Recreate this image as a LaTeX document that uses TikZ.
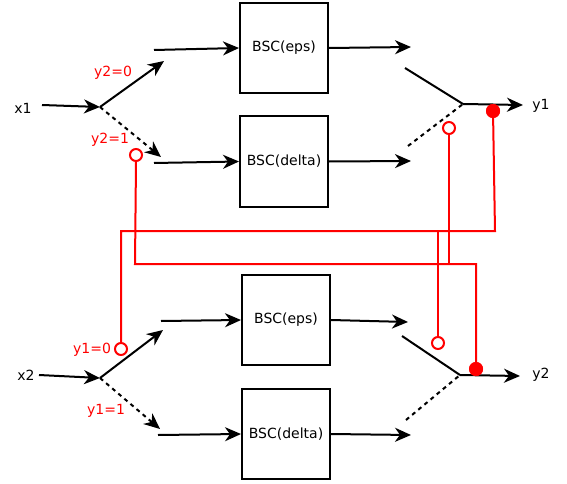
\documentclass[tikz,border=0pt]{standalone}
\usepackage{fontspec}
\setmainfont{DejaVu Sans}
\usetikzlibrary{arrows.meta}
\tikzset{
  pic/.style={x=1pt,y=-1pt},
  wire/.style={line width=2pt,line join=miter},
  arr/.style={wire,-{Stealth[length=16pt,width=14pt,inset=5pt]}},
  dsh/.style={arr,dash pattern=on 4pt off 4pt},
  dshline/.style={wire,dash pattern=on 4pt off 4pt},
  chan/.style={draw,line width=2pt,minimum width=88pt,minimum height=90pt,inner sep=0pt,font=\fontsize{14}{16}\selectfont},
  lbl/.style={inner sep=0pt,font=\fontsize{14}{16}\selectfont},
  rlbl/.style={lbl,text=red},
  ctl/.style={draw=red,line width=2pt},
  open/.style={circle,draw=red,line width=2pt,fill=white,minimum size=12pt,inner sep=0pt},
  shut/.style={circle,fill=red,minimum size=14pt,inner sep=0pt},
}
\begin{document}
\begin{tikzpicture}[pic]
\useasboundingbox (0,0) rectangle (567,484);

% --- channel boxes
\node[chan] (eps1) at (284,48) {BSC(eps)};
\node[chan] (del1) at (284,161.5) {BSC(delta)};
\node[chan] (eps2) at (286,320) {BSC(eps)};
\node[chan] (del2) at (286,434) {BSC(delta)};

% --- terminal labels
\node[lbl] (x1) at (23,108) {x1};
\node[lbl] (x2) at (26,375) {x2};
\node[lbl] (y1) at (541,106) {y1};
\node[lbl] (y2) at (541,375) {y2};
\node[rlbl] (l20) at (113,73) {y2=0};
\node[rlbl] (l21) at (110,140) {y2=1};
\node[rlbl] (l10) at (92,350) {y1=0};
\node[rlbl] (l11) at (106,411) {y1=1};

% --- switch points and free ends
\coordinate (x1in) at (42,105);
\coordinate (s1) at (100,107);
\coordinate (s1a) at (164,61);
\coordinate (s1b) at (161,157);
\coordinate (e1in) at (154,50);
\coordinate (d1in) at (154,163);
\coordinate (e1out) at (411,47);
\coordinate (d1out) at (411,161);
\coordinate (r1) at (463,104);
\coordinate (r1a) at (405,68);
\coordinate (r1b) at (408,146);
\coordinate (y1out) at (523,105);

\coordinate (x2in) at (39,375);
\coordinate (s2) at (100,378);
\coordinate (s2a) at (163,330);
\coordinate (s2b) at (160,429);
\coordinate (e2in) at (161,321);
\coordinate (d2in) at (158,435);
\coordinate (e2out) at (408,322);
\coordinate (d2out) at (411,435);
\coordinate (r2) at (460,375);
\coordinate (r2a) at (402,336);
\coordinate (r2b) at (406,420);
\coordinate (y2out) at (520,376);

% --- upper branch
\draw[arr] (x1in) -- (s1);
\draw[arr] (s1) -- (s1a);
\draw[dsh] (s1) -- (s1b);
\draw[arr] (e1in) -- (eps1.west);
\draw[arr] (d1in) -- (del1.west);
\draw[arr] (eps1.east) -- (e1out);
\draw[arr] (del1.east) -- (d1out);
\draw[wire] (r1a) -- (r1);
\draw[dshline] (r1b) -- (r1);
\draw[arr] (r1) -- (y1out);

% --- lower branch
\draw[arr] (x2in) -- (s2);
\draw[arr] (s2) -- (s2a);
\draw[dsh] (s2) -- (s2b);
\draw[arr] (e2in) -- (eps2.west);
\draw[arr] (d2in) -- (del2.west);
\draw[arr] (eps2.east) -- (e2out);
\draw[arr] (del2.east) -- (d2out);
\draw[wire] (r2a) -- (r2);
\draw[dshline] (r2b) -- (r2);
\draw[arr] (r2) -- (y2out);

% --- control taps
\node[open] (o1) at (136,155) {};
\node[open] (o2) at (449,128) {};
\node[open] (o3) at (121,349) {};
\node[open] (o4) at (438,343) {};
\node[shut] (f1) at (493,111) {};
\node[shut] (f2) at (476,369) {};

\coordinate (b1) at (495,231);
\coordinate (b2) at (121,231);
\coordinate (b3) at (438,231);
\coordinate (c1) at (135,264);
\coordinate (c2) at (476,264);
\coordinate (c3) at (449,264);

% y1 feeds the lower switch
\draw[ctl] (f1.center) -- (b1) -- (b2) -- (o3.north);
\draw[ctl] (b3) -- (o4.north);
% y2 feeds the upper switch
\draw[ctl] (o1.south) -- (c1) -- (c2) -- (f2.center);
\draw[ctl] (o2.south) -- (c3);
\node[shut] at (f1) {};
\node[shut] at (f2) {};
\end{tikzpicture}
\end{document}
